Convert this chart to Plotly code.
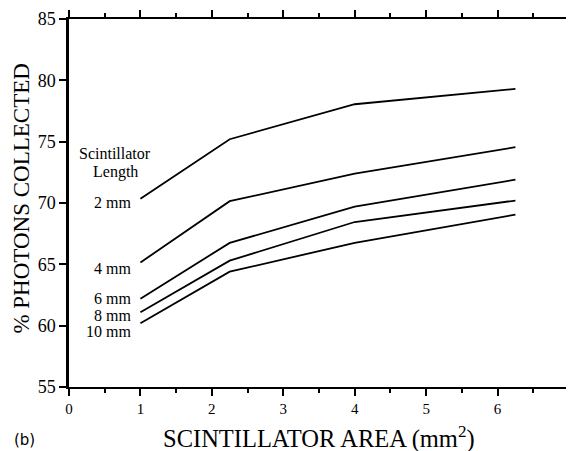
import plotly.graph_objects as go

area = [1, 2.25, 4, 6.25]
lengths = ["2 mm", "4 mm", "6 mm", "8 mm", "10 mm"]
photons = {
    "2 mm": [70.35, 75.2, 78.05, 79.3],
    "4 mm": [65.15, 70.15, 72.4, 74.55],
    "6 mm": [62.2, 66.75, 69.7, 71.9],
    "8 mm": [61.1, 65.3, 68.45, 70.2],
    "10 mm": [60.2, 64.4, 66.75, 69.05],
}
label_y = {"2 mm": 70.05, "4 mm": 64.7, "6 mm": 62.2, "8 mm": 60.85, "10 mm": 59.5}

serif = "Liberation Serif, Times New Roman, serif"

fig = go.Figure()
for name in lengths:
    fig.add_trace(go.Scatter(x=area, y=photons[name], mode="lines",
                             line=dict(color="black", width=1.8),
                             name=name, showlegend=False))

for name in lengths:
    fig.add_annotation(x=0.89, y=label_y[name], xref="x", yref="y", text=name,
                       showarrow=False, xanchor="right", yanchor="middle",
                       font=dict(family=serif, size=16, color="black"))

fig.add_annotation(x=0.64, y=74.0, xref="x", yref="y", text="Scintillator",
                   showarrow=False, xanchor="center", yanchor="middle",
                   font=dict(family=serif, size=16, color="black"))
fig.add_annotation(x=0.65, y=72.5, xref="x", yref="y", text="Length",
                   showarrow=False, xanchor="center", yanchor="middle",
                   font=dict(family=serif, size=16, color="black"))

# page body has an 8px margin, so the figure is sized/offset to compensate
fig.update_layout(
    width=566, height=443,
    margin=dict(l=61, r=2, t=9, b=64),
    paper_bgcolor="white", plot_bgcolor="white",
    font=dict(family=serif, color="black"),
)

fig.add_annotation(x=-0.094, y=0.512, xref="paper", yref="paper",
                   text="% PHOTONS COLLECTED", textangle=-90, showarrow=False,
                   xanchor="center", yanchor="middle",
                   font=dict(family=serif, size=23, color="black"))
fig.add_annotation(x=0.499, y=-0.138, xref="paper", yref="paper",
                   text="SCINTILLATOR AREA (mm<sup>2</sup>)", showarrow=False,
                   xanchor="center", yanchor="middle",
                   font=dict(family=serif, size=24.5, color="black"))
fig.add_annotation(x=-0.115, y=-0.143, xref="paper", yref="paper",
                   text="(b)", showarrow=False, xanchor="left", yanchor="middle",
                   font=dict(family="DejaVu Sans, sans-serif", size=15, color="black"))

fig.update_xaxes(range=[0, 7], tickvals=[0, 1, 2, 3, 4, 5, 6, 7],
                 ticks="outside", ticklen=7, tickwidth=1.5, tickcolor="black",
                 showline=True, linewidth=2, linecolor="black", mirror="ticks",
                 showgrid=False, zeroline=False,
                 tickfont=dict(family=serif, size=15, color="black"),
                 minor=dict(dtick=0.5, ticks="outside", ticklen=4,
                            tickwidth=1.5, tickcolor="black", showgrid=False))
fig.update_yaxes(range=[55, 85], tickvals=[55, 60, 65, 70, 75, 80, 85],
                 ticks="outside", ticklen=7, tickwidth=1.5, tickcolor="black",
                 showline=True, linewidth=2.5, linecolor="black", mirror=True,
                 showgrid=False, zeroline=False,
                 tickfont=dict(family=serif, size=18, color="black"))

fig.write_html("out.html")
